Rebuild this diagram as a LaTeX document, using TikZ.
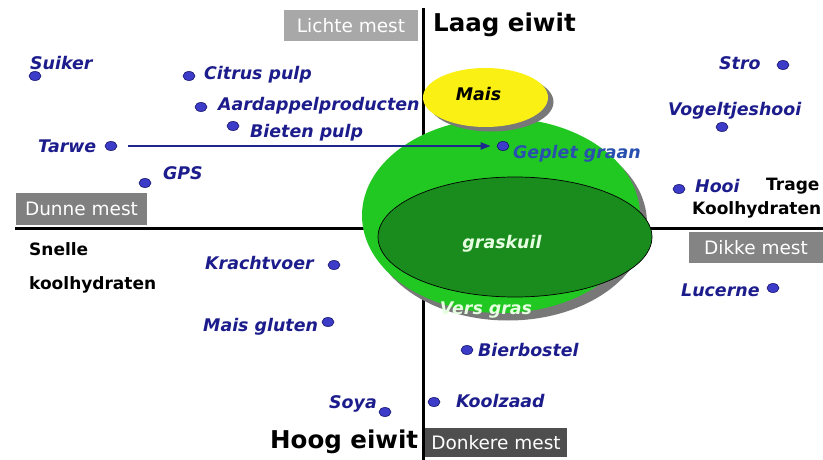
\documentclass[tikz,border=0pt]{standalone}
\usepackage{fontspec}
\setmainfont{DejaVu Sans}
\usetikzlibrary{shapes.geometric,arrows.meta}
\definecolor{labblue}{RGB}{28,28,140}
\definecolor{gepblue}{RGB}{40,80,175}
\definecolor{dotblue}{RGB}{60,60,200}
\definecolor{dotedge}{RGB}{20,20,110}
\definecolor{arrblue}{RGB}{30,40,140}
\definecolor{lgreen}{RGB}{34,200,34}
\definecolor{dgreen}{RGB}{26,140,30}
\definecolor{myyellow}{RGB}{250,240,20}
\definecolor{shadowgray}{RGB}{120,120,120}
\definecolor{paletext}{RGB}{230,255,225}
\definecolor{gray1}{RGB}{168,168,168}
\definecolor{gray2}{RGB}{128,128,128}
\definecolor{gray3}{RGB}{132,132,132}
\definecolor{gray4}{RGB}{78,78,78}
\tikzset{
  lab/.style={font=\bfseries\itshape\fontsize{17.4}{20}\selectfont, text=labblue, inner sep=0pt, anchor=mid west, yshift=-4pt},
  blk/.style={font=\bfseries\fontsize{17}{20}\selectfont, text=black, inner sep=0pt, anchor=mid west, yshift=-5pt},
  big/.style={font=\bfseries\fontsize{24.5}{28}\selectfont, text=black, inner sep=0pt, anchor=mid west, yshift=-6pt},
  dot/.style={ellipse, fill=dotblue, draw=dotedge, line width=0.6pt, minimum width=12pt, minimum height=9pt, inner sep=0pt},
  mest/.style={font=\fontsize{18.5}{22}\selectfont, text=white, inner sep=0pt, minimum height=31pt},
  axis/.style={line width=3pt, black},
  arr/.style={line width=2pt, arrblue, -{Triangle[length=10pt,width=7pt]}},
  inner/.style={font=\bfseries\itshape\fontsize{17.4}{20}\selectfont, inner sep=0pt}
}
\begin{document}
\begin{tikzpicture}[x=1pt,y=-1pt]
\useasboundingbox[fill=white] (0,0) rectangle (823,460);

% axes
\coordinate (vtop) at (423,8);
\coordinate (vbot) at (423,460);
\coordinate (hleft) at (15,228);
\coordinate (hright) at (823,228);
\draw[axis] (vtop) -- (vbot);
\draw[axis] (hleft) -- (hright);

% ellipses
\fill[shadowgray] (508,223) ellipse [x radius=139, y radius=97.5];
\node[ellipse, fill=lgreen, minimum width=278pt, minimum height=195pt, inner sep=0pt] (vers) at (501,215.5) {};
\node[ellipse, fill=dgreen, draw=black, line width=0.7pt, minimum width=274pt, minimum height=120pt, inner sep=0pt] (kuil) at (515,237) {};
\fill[shadowgray] (491,102) ellipse [x radius=62.5, y radius=29.5];
\node[ellipse, fill=myyellow, minimum width=125pt, minimum height=59pt, inner sep=0pt] (mais) at (485.5,97.5) {};

\node[inner, text=black] (maist) at (478.5,94) {Mais};
\node[inner, text=paletext] (graskuil) at (502,244) {graskuil};
\node[inner, text=paletext] (versgras) at (486,310) {Vers gras};

% gray boxes
\node[mest, fill=gray1, minimum width=134pt] (lichte) at (351,25.5) {Lichte mest};
\node[mest, fill=gray2, minimum width=131pt, minimum height=32pt] (dunne) at (81.5,209) {Dunne mest};
\node[mest, fill=gray3, minimum width=134pt] (dikke) at (756,247.5) {Dikke mest};
\node[mest, fill=gray4, minimum width=142pt, minimum height=29pt] (donkere) at (496,442.5) {Donkere mest};

% black labels
\node[big] (laag) at (433,23) {Laag eiwit};
\node[big] (hoog) at (270,440) {Hoog eiwit};
\node[blk] (snelle) at (29,248) {Snelle};
\node[blk] (kool1) at (29,282) {koolhydraten};
\node[blk] (trage) at (766,183) {Trage};
\node[blk] (kool2) at (692,207) {Koolhydraten};

% dots
\node[dot] (dSuiker) at (35,76) {};
\node[dot] (dCitrus) at (189,76) {};
\node[dot] (dAard) at (201,107) {};
\node[dot] (dBieten) at (233,126) {};
\node[dot] (dTarwe) at (111,146) {};
\node[dot] (dGPS) at (145,183) {};
\node[dot] (dGeplet) at (503,146) {};
\node[dot] (dStro) at (783,65) {};
\node[dot] (dVogel) at (722,127) {};
\node[dot] (dHooi) at (679,189) {};
\node[dot] (dKracht) at (334,265) {};
\node[dot] (dGluten) at (328,322) {};
\node[dot] (dSoya) at (385,412) {};
\node[dot] (dBier) at (467,350) {};
\node[dot] (dKool) at (434,402) {};
\node[dot] (dLuc) at (773,288) {};

% blue labels
\node[lab] (tSuiker) at (30,63) {Suiker};
\node[lab] (tCitrus) at (204,73) {Citrus pulp};
\node[lab] (tAard) at (218,104) {Aardappelproducten};
\node[lab] (tBieten) at (250,131) {Bieten pulp};
\node[lab] (tTarwe) at (38,146) {Tarwe};
\node[lab] (tGPS) at (163,173) {GPS};
\node[lab, text=gepblue] (tGeplet) at (513,152) {Geplet graan};
\node[lab] (tStro) at (719,63) {Stro};
\node[lab] (tVogel) at (668,109) {Vogeltjeshooi};
\node[lab] (tHooi) at (695,186) {Hooi};
\node[lab] (tKracht) at (205,263) {Krachtvoer};
\node[lab] (tGluten) at (203,325) {Mais gluten};
\node[lab] (tSoya) at (329,402) {Soya};
\node[lab] (tBier) at (478,350) {Bierbostel};
\node[lab] (tKool) at (456,401) {Koolzaad};
\node[lab] (tLuc) at (681,290) {Lucerne};

% arrow
\draw[arr, shorten <=11pt, shorten >=6pt] (dTarwe.east) -- (dGeplet.west);
\end{tikzpicture}
\end{document}
